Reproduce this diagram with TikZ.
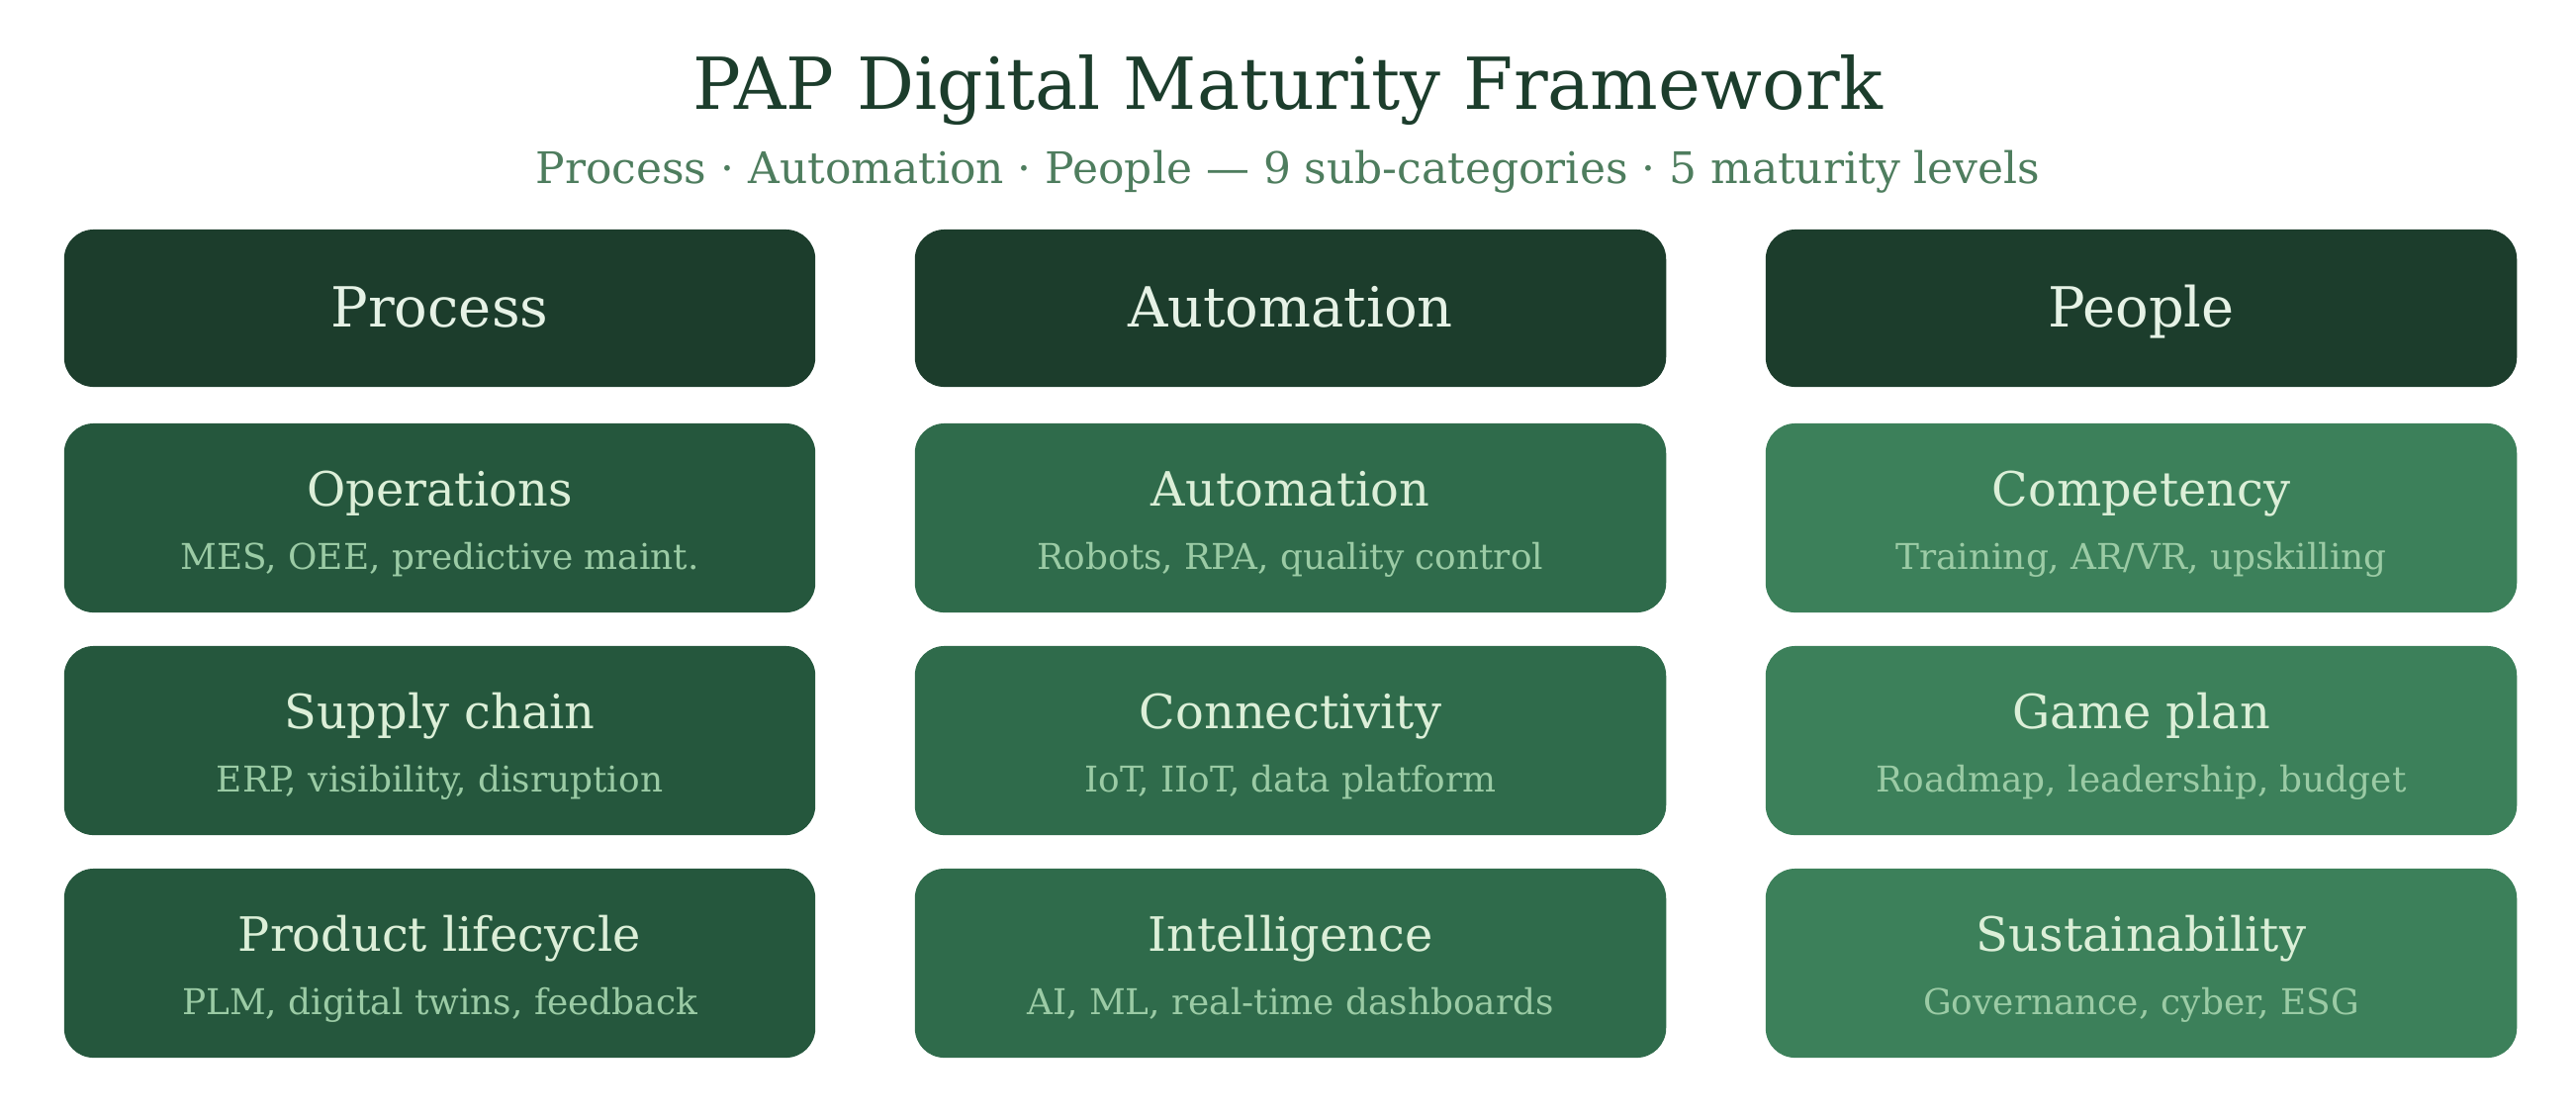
\documentclass[tikz,border=0pt]{standalone}
\usepackage{fontspec}
\setmainfont{DejaVu Serif}
\usepackage{xcolor}
\usepackage{tikz}
\usetikzlibrary{positioning}

\definecolor{pillarbg}{HTML}{1C3D2C}
\definecolor{procbg}{HTML}{25573D}
\definecolor{autobg}{HTML}{2F6B4B}
\definecolor{peopbg}{HTML}{3C805A}
\definecolor{titlefg}{HTML}{1C3D2C}
\definecolor{subfg}{HTML}{4E7D5E}
\definecolor{pillarfg}{HTML}{E6F2E6}
\definecolor{namefg}{HTML}{DCEFD8}
\definecolor{descfg}{HTML}{9BCBA5}

\begin{document}
\begin{tikzpicture}[
    x=0.01cm, y=-0.01cm,
    pillar/.style={rounded corners=8.5pt, fill=pillarbg, inner sep=0pt,
      minimum width=7.59cm, minimum height=1.59cm},
    cat/.style={rounded corners=8.5pt, inner sep=0pt,
      minimum width=7.59cm, minimum height=1.91cm},
    pillartext/.style={anchor=base, inner sep=0pt, text=pillarfg,
      font=\fontsize{15.9pt}{18pt}\selectfont},
    catname/.style={anchor=base, inner sep=0pt, text=namefg,
      font=\fontsize{13.6pt}{16pt}\selectfont},
    catdesc/.style={anchor=base, inner sep=0pt, text=descfg,
      font=\fontsize{10.2pt}{12pt}\selectfont}
  ]
    \useasboundingbox (0,0) rectangle (2604,1129);

    %% ---- Heading ----
    \node[anchor=base, inner sep=0pt, text=titlefg,
      font=\fontsize{20.6pt}{24pt}\selectfont] (title) at (1302,110)
      {PAP Digital Maturity Framework};
    \node[anchor=base, inner sep=0pt, text=subfg,
      font=\fontsize{12.5pt}{15pt}\selectfont] (subtitle) at (1302,185)
      {Process · Automation · People — 9 sub-categories · 5 maturity levels};

    %% ---- Pillars ----
    \node[pillar] (proc) at (444.5,311.5) {};
    \node[pillar] (auto) at (1304.5,311.5) {};
    \node[pillar] (peop) at (2164.5,311.5) {};
    \node[pillartext] (proc-t) at (444.5,330) {Process};
    \node[pillartext] (auto-t) at (1304.5,330) {Automation};
    \node[pillartext] (peop-t) at (2164.5,330) {People};

    %% ---- Process column ----
    \node[cat, fill=procbg] (ops) at (444.5,523.5) {};
    \node[catname] (ops-t) at (444.5,511) {Operations};
    \node[catdesc] (ops-d) at (444.5,575) {MES, OEE, predictive maint.};

    \node[cat, fill=procbg] (sup) at (444.5,748.5) {};
    \node[catname] (sup-t) at (444.5,736) {Supply chain};
    \node[catdesc] (sup-d) at (444.5,800) {ERP, visibility, disruption};

    \node[cat, fill=procbg] (plc) at (444.5,973.5) {};
    \node[catname] (plc-t) at (444.5,961) {Product lifecycle};
    \node[catdesc] (plc-d) at (444.5,1025) {PLM, digital twins, feedback};

    %% ---- Automation column ----
    \node[cat, fill=autobg] (aut) at (1304.5,523.5) {};
    \node[catname] (aut-t) at (1304.5,511) {Automation};
    \node[catdesc] (aut-d) at (1304.5,575) {Robots, RPA, quality control};

    \node[cat, fill=autobg] (con) at (1304.5,748.5) {};
    \node[catname] (con-t) at (1304.5,736) {Connectivity};
    \node[catdesc] (con-d) at (1304.5,800) {IoT, IIoT, data platform};

    \node[cat, fill=autobg] (intl) at (1304.5,973.5) {};
    \node[catname] (intl-t) at (1304.5,961) {Intelligence};
    \node[catdesc] (intl-d) at (1304.5,1025) {AI, ML, real-time dashboards};

    %% ---- People column ----
    \node[cat, fill=peopbg] (comp) at (2164.5,523.5) {};
    \node[catname] (comp-t) at (2164.5,511) {Competency};
    \node[catdesc] (comp-d) at (2164.5,575) {Training, AR/VR, upskilling};

    \node[cat, fill=peopbg] (game) at (2164.5,748.5) {};
    \node[catname] (game-t) at (2164.5,736) {Game plan};
    \node[catdesc] (game-d) at (2164.5,800) {Roadmap, leadership, budget};

    \node[cat, fill=peopbg] (sust) at (2164.5,973.5) {};
    \node[catname] (sust-t) at (2164.5,961) {Sustainability};
    \node[catdesc] (sust-d) at (2164.5,1025) {Governance, cyber, ESG};
  \end{tikzpicture}
\end{document}
